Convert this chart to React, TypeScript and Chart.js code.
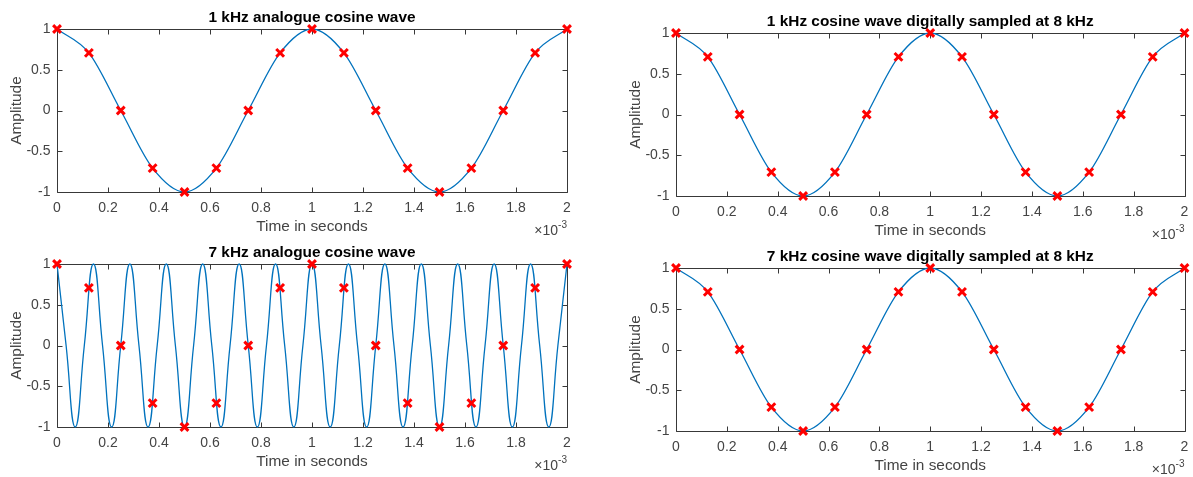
import { useEffect, useRef } from "react";
import { Chart, registerables } from "chart.js";

Chart.register(...registerables);

// Time axis is in milliseconds; the axis carries a "×10^-3" exponent label (seconds).
const sampleTimes = [0, 0.125, 0.25, 0.375, 0.5, 0.625, 0.75, 0.875, 1, 1.125, 1.25, 1.375, 1.5, 1.625, 1.75, 1.875, 2];
const sampleValues = [1, 0.707, 0, -0.707, -1, -0.707, 0, 0.707, 1, 0.707, 0, -0.707, -1, -0.707, 0, 0.707, 1];

// 7 kHz analogue wave: peaks, zero crossings and troughs (quarter-period points)
const wave7kTimes = [
  0, 0.0357, 0.0714, 0.1071, 0.1429, 0.1786, 0.2143, 0.25, 0.2857, 0.3214,
  0.3571, 0.3929, 0.4286, 0.4643, 0.5, 0.5357, 0.5714, 0.6071, 0.6429, 0.6786,
  0.7143, 0.75, 0.7857, 0.8214, 0.8571, 0.8929, 0.9286, 0.9643, 1, 1.0357,
  1.0714, 1.1071, 1.1429, 1.1786, 1.2143, 1.25, 1.2857, 1.3214, 1.3571, 1.3929,
  1.4286, 1.4643, 1.5, 1.5357, 1.5714, 1.6071, 1.6429, 1.6786, 1.7143, 1.75,
  1.7857, 1.8214, 1.8571, 1.8929, 1.9286, 1.9643, 2,
];
const wave7kValues = [
  1, 0, -1, 0, 1, 0, -1, 0, 1, 0,
  -1, 0, 1, 0, -1, 0, 1, 0, -1, 0,
  1, 0, -1, 0, 1, 0, -1, 0, 1, 0,
  -1, 0, 1, 0, -1, 0, 1, 0, -1, 0,
  1, 0, -1, 0, 1, 0, -1, 0, 1, 0,
  -1, 0, 1, 0, -1, 0, 1,
];

const xTickValues = [0, 0.2, 0.4, 0.6, 0.8, 1, 1.2, 1.4, 1.6, 1.8, 2];
const yTickValues = [-1, -0.5, 0, 0.5, 1];

const panelTitles = [
  "1 kHz analogue cosine wave",
  "1 kHz cosine wave digitally sampled at 8 kHz",
  "7 kHz analogue cosine wave",
  "7 kHz cosine wave digitally sampled at 8 kHz",
];

const FONT = "'Liberation Sans', Arial, Helvetica, sans-serif";
const AXIS_COLOR = "#383838";
const TEXT_COLOR = "#444444";
const CURVE_COLOR = "#0072BD";
const MARKER_COLOR = "#ff0000";

const Y_AXIS_W = 49;
const X_AXIS_H = 44;
const TITLE_LH = 15.4 * 1.2;
const TITLE_PAD_BOTTOM = 1.8;
const TITLE_H = TITLE_LH + TITLE_PAD_BOTTOM;
const TICK_LEN = 5;

type Rect = { x: number; y: number; w: number; h: number };
type Plot = { l: number; t: number; r: number; b: number };

type PanelSpec = {
  title: string;
  curveX: number[];
  curveY: number[];
  smoothing: "monotone" | "spline";
  canvas: Rect;
  plot: Plot;
};

const panels: PanelSpec[] = [
  {
    title: panelTitles[0],
    curveX: sampleTimes,
    curveY: sampleValues,
    smoothing: "monotone",
    canvas: { x: 0, y: 0, w: 596, h: 240 },
    plot: { l: 57, t: 29, r: 567, b: 192 },
  },
  {
    title: panelTitles[1],
    curveX: sampleTimes,
    curveY: sampleValues,
    smoothing: "monotone",
    canvas: { x: 596, y: 0, w: 597, h: 240 },
    plot: { l: 676, t: 33, r: 1186, b: 196 },
  },
  {
    title: panelTitles[2],
    curveX: wave7kTimes,
    curveY: wave7kValues,
    smoothing: "spline",
    canvas: { x: 0, y: 240, w: 596, h: 237 },
    plot: { l: 57, t: 264, r: 567, b: 427 },
  },
  {
    title: panelTitles[3],
    curveX: sampleTimes,
    curveY: sampleValues,
    smoothing: "monotone",
    canvas: { x: 596, y: 240, w: 597, h: 237 },
    plot: { l: 676, t: 268, r: 1186, b: 431 },
  },
];

const fmt = (v: number) => String(Math.round(v * 10) / 10);

// Box around the axes with inward tick marks on all four sides
const framePlugin = {
  id: "matlabFrame",
  beforeDatasetsDraw(chart: any) {
    const { ctx, chartArea: a, scales } = chart;
    const L = Math.round(a.left) + 0.5;
    const R = Math.round(a.right) + 0.5;
    const T = Math.round(a.top) + 0.5;
    const B = Math.round(a.bottom) + 0.5;
    ctx.save();
    ctx.strokeStyle = AXIS_COLOR;
    ctx.lineWidth = 1;
    ctx.beginPath();
    ctx.rect(L, T, R - L, B - T);
    for (const v of xTickValues) {
      const px = Math.round(scales.x.getPixelForValue(v)) + 0.5;
      ctx.moveTo(px, B);
      ctx.lineTo(px, B - TICK_LEN);
      ctx.moveTo(px, T);
      ctx.lineTo(px, T + TICK_LEN);
    }
    for (const v of yTickValues) {
      const py = Math.round(scales.y.getPixelForValue(v)) + 0.5;
      ctx.moveTo(L, py);
      ctx.lineTo(L + TICK_LEN, py);
      ctx.moveTo(R, py);
      ctx.lineTo(R - TICK_LEN, py);
    }
    ctx.stroke();
    ctx.restore();
  },
};

// Exponent note under the right end of the time axis
const exponentPlugin = {
  id: "axisExponent",
  afterDraw(chart: any) {
    const { ctx, chartArea: a } = chart;
    const base = a.bottom + 43;
    ctx.save();
    ctx.fillStyle = TEXT_COLOR;
    ctx.textAlign = "right";
    ctx.textBaseline = "alphabetic";
    ctx.font = `10px ${FONT}`;
    const sup = "-3";
    const supW = ctx.measureText(sup).width;
    ctx.fillText(sup, a.right, base - 7);
    ctx.font = `14px ${FONT}`;
    ctx.fillText("×10", a.right - supW, base);
    ctx.restore();
  },
};

function Panel({ spec }: { spec: PanelSpec }) {
  const ref = useRef<HTMLCanvasElement>(null);

  useEffect(() => {
    const { canvas: c, plot: p } = spec;
    const curve = spec.curveX.map((x, i) => ({ x, y: spec.curveY[i] }));
    const samples = sampleTimes.map((x, i) => ({ x, y: sampleValues[i] }));
    const smooth =
      spec.smoothing === "monotone"
        ? { cubicInterpolationMode: "monotone" }
        : { tension: 0.5 };

    const chart = new Chart(ref.current as HTMLCanvasElement, {
      type: "line",
      data: {
        datasets: [
          {
            data: samples,
            showLine: false,
            pointStyle: "crossRot",
            pointRadius: 5.5,
            pointBorderWidth: 3,
            pointBorderColor: MARKER_COLOR,
            pointBackgroundColor: MARKER_COLOR,
            clip: false,
          },
          {
            data: curve,
            borderColor: CURVE_COLOR,
            borderWidth: 1.3,
            pointRadius: 0,
            fill: false,
            clip: false,
            ...smooth,
          },
        ],
      },
      options: {
        responsive: false,
        animation: false,
        events: [],
        layout: {
          padding: {
            left: p.l - c.x - Y_AXIS_W,
            right: c.x + c.w - p.r,
            top: p.t - c.y - TITLE_H,
            bottom: c.y + c.h - p.b - X_AXIS_H,
          },
        },
        scales: {
          x: {
            type: "linear",
            min: 0,
            max: 2,
            afterBuildTicks: (s: any) => {
              s.ticks = xTickValues.map((value) => ({ value }));
            },
            afterFit: (s: any) => {
              s.height = X_AXIS_H;
              s.paddingLeft = 0;
              s.paddingRight = 0;
            },
            grid: { display: false, drawTicks: false },
            border: { display: false },
            ticks: {
              padding: 7.5,
              autoSkip: false,
              maxRotation: 0,
              color: TEXT_COLOR,
              font: { size: 14, family: FONT },
              callback: (v: any) => fmt(Number(v)),
            },
            title: {
              display: true,
              text: "Time in seconds",
              color: TEXT_COLOR,
              font: { size: 15.4, family: FONT },
              padding: 0,
            },
          },
          y: {
            type: "linear",
            min: -1,
            max: 1,
            afterBuildTicks: (s: any) => {
              s.ticks = yTickValues.map((value) => ({ value }));
            },
            afterFit: (s: any) => {
              s.width = Y_AXIS_W;
              s.paddingTop = 0;
              s.paddingBottom = 0;
            },
            grid: { display: false, drawTicks: false },
            border: { display: false },
            ticks: {
              padding: 6.5,
              autoSkip: false,
              color: TEXT_COLOR,
              font: { size: 14, family: FONT },
              callback: (v: any) => fmt(Number(v)),
            },
            title: {
              display: true,
              text: "Amplitude",
              color: TEXT_COLOR,
              font: { size: 15.4, family: FONT },
              padding: 0,
            },
          },
        },
        plugins: {
          legend: { display: false },
          tooltip: { enabled: false },
          title: {
            display: true,
            text: spec.title,
            fullSize: false,
            color: "#000000",
            font: { size: 15.4, weight: "bold", family: FONT },
            padding: { top: 0, bottom: TITLE_PAD_BOTTOM },
          },
        },
      } as any,
      plugins: [framePlugin, exponentPlugin],
    });
    return () => chart.destroy();
  }, [spec]);

  const { x, y, w, h } = spec.canvas;
  return (
    <canvas
      ref={ref}
      width={w}
      height={h}
      style={{ position: "absolute", left: x, top: y, width: w, height: h }}
    />
  );
}

export default function App() {
  return (
    <div
      style={{
        position: "fixed",
        left: 0,
        top: 0,
        width: 1193,
        height: 477,
        background: "#ffffff",
        overflow: "hidden",
      }}
    >
      {panels.map((spec) => (
        <Panel key={spec.title} spec={spec} />
      ))}
    </div>
  );
}
